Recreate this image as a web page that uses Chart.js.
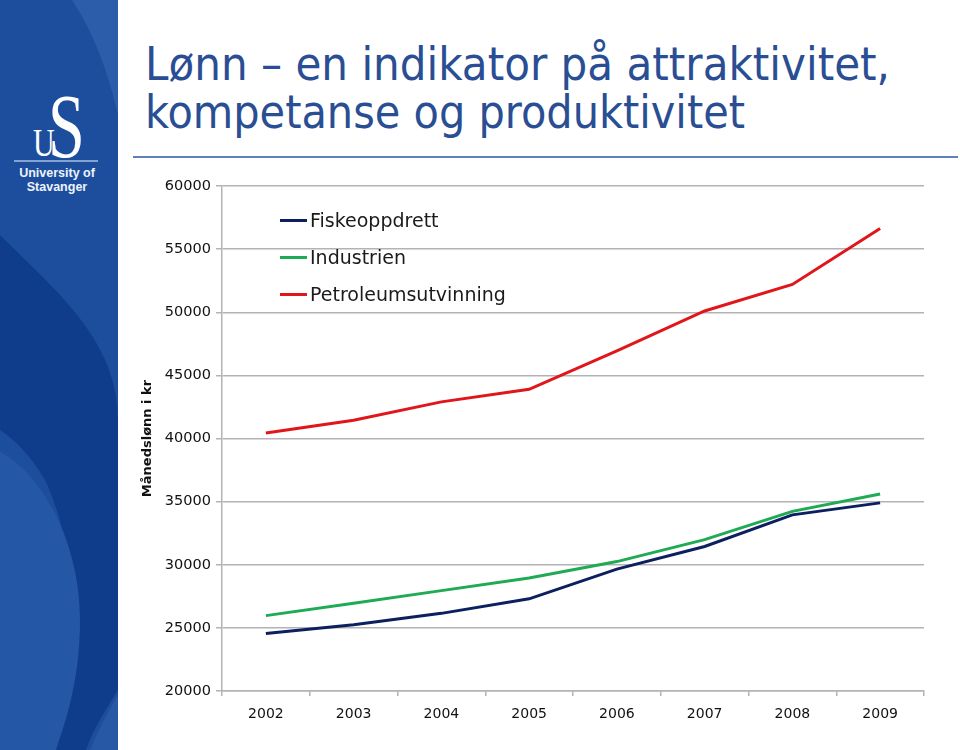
<!DOCTYPE html>
<html>
<head>
<meta charset="utf-8">
<script src="https://cdn.jsdelivr.net/npm/chart.js@4/dist/chart.umd.min.js"></script>
<style>
  html, body { margin:0; padding:0; background:#fff; width:960px; height:750px; overflow:hidden; font-family:"DejaVu Sans", sans-serif; }
  #side { position:absolute; left:0; top:0; width:118px; height:750px; }
  .tline { position:absolute; left:145px; color:#2a4e93; font-family:"DejaVu Sans Condensed","DejaVu Sans",sans-serif; font-size:46px; line-height:45px; white-space:nowrap; transform-origin:0 0; }
  #rule { position:absolute; left:133px; top:156px; width:825px; height:2px; background:#5f80b8; }
  #wrap { position:absolute; left:130px; top:170px; width:830px; height:570px; }
  #legend { position:absolute; left:280px; top:0; }
  .li { position:absolute; left:0; white-space:nowrap; font-family:"DejaVu Sans",sans-serif; font-size:19px; line-height:22px; color:#1a1a1a; }
  .li span.sw { position:absolute; left:0; width:27px; height:3px; }
  .li span.tx { position:absolute; left:30px; top:0; }
</style>
</head>
<body>
<svg id="side" width="118" height="750" viewBox="0 0 118 750">
  <rect x="0" y="0" width="118" height="750" fill="#1d4e9e"/>
  <path d="M72 0 C92 30 108 70 118 115 L118 0 Z" fill="#2b5dab"/>
  <path d="M0 235 C55 290 118 340 118 420 L118 690 C104 712 92 732 86 750 L55 750 C78 660 82 560 45 480 C30 455 15 440 0 430 Z" fill="#0f3d8c"/>
  <path d="M0 452 C40 472 80 540 80 620 C80 680 66 720 56 750 L0 750 Z" fill="#2457a5"/>
  <path d="M118 695 L118 750 L90 750 C98 730 108 712 118 695 Z" fill="#2658a6"/>
  <text x="48" y="157" fill="#ffffff" font-family="Liberation Serif, DejaVu Serif, serif" font-size="92" transform="translate(48 0) scale(0.72 1) translate(-48 0)">S</text>
  <text x="33" y="156" fill="#ffffff" font-family="Liberation Serif, DejaVu Serif, serif" font-size="40" transform="translate(33 0) scale(0.75 1) translate(-33 0)">U</text>
  <line x1="14" y1="161" x2="98" y2="161" stroke="#a9c0e2" stroke-width="1.5"/>
  <text x="57" y="177" fill="#eef3fb" text-anchor="middle" font-family="Liberation Sans, Arial, sans-serif" font-weight="bold" font-size="12.5">University of</text>
  <text x="57" y="191" fill="#eef3fb" text-anchor="middle" font-family="Liberation Sans, Arial, sans-serif" font-weight="bold" font-size="12.5">Stavanger</text>
</svg>

<div class="tline" id="t1" style="top:42px">Lønn – en indikator på attraktivitet,</div>
<div class="tline" id="t2" style="top:90px">kompetanse og produktivitet</div>
<div id="rule"></div>

<div id="wrap"><canvas id="c" width="830" height="570"></canvas></div>
<div id="legend"></div>

<script>
// ---- Data ----
const years = ['2002', '2003', '2004', '2005', '2006', '2007', '2008', '2009'];
const fiskeoppdrett = [24550, 25250, 26150, 27300, 29650, 31450, 33950, 34900];
const industrien = [25970, 26950, 27950, 28950, 30250, 31990, 34230, 35610];
const petroleumsutvinning = [40440, 41450, 42900, 43900, 46950, 50100, 52200, 56640];
const seriesNames = ['Fiskeoppdrett', 'Industrien', 'Petroleumsutvinning'];
const yTickValues = [20000, 25000, 30000, 35000, 40000, 45000, 50000, 55000, 60000];
const yTitle = 'Månedslønn i kr';

// ---- Title fitting ----
function fit(id, w) {
  const el = document.getElementById(id);
  const r = el.getBoundingClientRect();
  el.style.transform = 'scaleX(' + (w / r.width) + ')';
}
fit('t1', 745);
fit('t2', 600);

const colors = ['#0c1f5e', '#1faa55', '#e0161b'];
const seriesData = [fiskeoppdrett, industrien, petroleumsutvinning];

const chart = new Chart(document.getElementById('c').getContext('2d'), {
  type: 'line',
  data: {
    labels: years,
    datasets: seriesNames.map((n, i) => ({
      label: n,
      data: seriesData[i],
      borderColor: colors[i],
      backgroundColor: colors[i],
      borderWidth: 3,
      pointRadius: 0,
      tension: 0,
      fill: false
    }))
  },
  options: {
    responsive: false,
    animation: false,
    devicePixelRatio: 1,
    layout: { padding: { left: 0, right: 36, top: 16, bottom: 0 } },
    plugins: { legend: { display: false }, tooltip: { enabled: false } },
    scales: {
      x: {
        offset: true,
        grid: { display: true, drawOnChartArea: false, drawTicks: true, tickLength: 5, color: '#b3b3b3', lineWidth: 1.5, offset: true },
        border: { color: '#b3b3b3', width: 1.5 },
        ticks: { color: '#111', font: { family: 'DejaVu Sans', size: 14 }, padding: 10, maxRotation: 0, autoSkip: false },
        afterFit(s) { s.height = 49; }
      },
      y: {
        min: yTickValues[0],
        max: yTickValues[yTickValues.length - 1],
        afterBuildTicks(s) { s.ticks = yTickValues.map(v => ({ value: v })); },
        ticks: { color: '#111', font: { family: 'DejaVu Sans', size: 14.5 }, padding: 5, callback: v => String(v) },
        grid: { color: '#b3b3b3', lineWidth: 1.5, tickLength: 6 },
        border: { color: '#b3b3b3', width: 1.5 },
        title: { display: true, text: yTitle, color: '#111', font: { family: 'DejaVu Sans', size: 13, weight: 'bold' }, padding: { top: 10, bottom: 0 } },
        afterFit(s) { s.width = 92; }
      }
    }
  }
});

// ---- Legend (HTML, inside plot) ----
const lg = document.getElementById('legend');
const legendY = [220, 257, 294];
chart.data.datasets.forEach((ds, i) => {
  const d = document.createElement('div');
  d.className = 'li';
  d.style.top = (legendY[i] - 11) + 'px';
  d.innerHTML = '<span class="sw" style="top:10px;background:' + ds.borderColor + '"></span><span class="tx">' + ds.label + '</span>';
  lg.appendChild(d);
});
</script>
</body>
</html>
